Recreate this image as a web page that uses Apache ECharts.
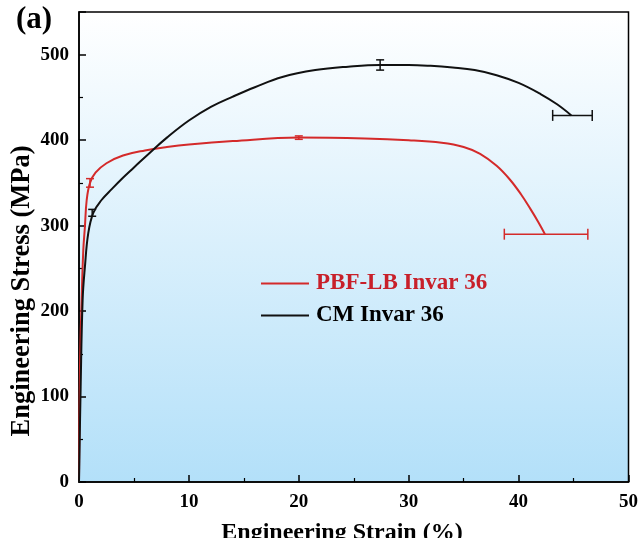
<!DOCTYPE html>
<html>
<head>
<meta charset="utf-8">
<script src="https://cdn.jsdelivr.net/npm/echarts@6/dist/echarts.min.js"></script>
<style>html,body{margin:0;padding:0;background:#fff;}#c{width:641px;height:538px;}</style>
</head>
<body>
<div id="c"></div>
<script>
// Data (strain %, stress MPa)
const pbfStrain = [0, 0.09, 0.24, 0.39, 0.54, 0.7, 1.0, 1.5, 2.5, 4, 6, 8, 10, 14, 20, 26, 30, 33, 35, 36.5, 38, 39.2, 40.2, 41.1, 41.8, 42.4];
const pbfStress = [0, 135, 213, 271, 299, 330, 350, 362, 373, 382, 388, 392, 395, 399, 403, 402, 400, 397, 392, 384, 370, 354, 337, 319, 304, 290];
const cmStrain = [0, 0.15, 0.33, 0.54, 0.84, 1.3, 2.05, 3, 4, 5, 6.5, 8, 10, 12, 14, 16, 18.5, 21.5, 24.5, 27.4, 30, 32, 34, 36, 38, 40, 42, 43.5, 44.8];
const cmStress = [0, 111, 213, 252, 291, 315, 330, 343, 356, 368, 386, 403, 423, 439, 451, 462, 474, 482, 486, 488, 488, 487, 485, 482, 476, 467, 454, 442, 429];
// Vertical error bars: [strain, stress, low, high]
const pbfYErr = [[1.0, 350, 345, 355], [20, 403, 401, 405]];
const cmYErr = [[1.2, 315, 311, 319], [27.4, 488, 482, 494]];
// Horizontal error bars: [strain, stress, low, high]
const pbfXErr = [[42.4, 290, 38.7, 46.3]];
const cmXErr = [[44.8, 429, 43.1, 46.7]];
const xTicks = [0, 10, 20, 30, 40, 50];
const yTicks = [0, 100, 200, 300, 400, 500];
const seriesNames = ['PBF-LB Invar 36', 'CM Invar 36'];
const RED = '#d42a2a', BLACK = '#111';

const zip = (a, b) => a.map((v, i) => [v, b[i]]);
const serif = "'Liberation Serif','Times New Roman',serif";

function vErr(color) {
  return function (params, api) {
    const x = api.value(0), lo = api.value(2), hi = api.value(3);
    const p1 = api.coord([x, lo]), p2 = api.coord([x, hi]);
    const w = 4;
    const st = {stroke: color, lineWidth: 1.5};
    return {type: 'group', children: [
      {type: 'line', shape: {x1: p1[0], y1: p1[1], x2: p2[0], y2: p2[1]}, style: st},
      {type: 'line', shape: {x1: p1[0] - w, y1: p1[1], x2: p1[0] + w, y2: p1[1]}, style: st},
      {type: 'line', shape: {x1: p2[0] - w, y1: p2[1], x2: p2[0] + w, y2: p2[1]}, style: st}
    ]};
  };
}
function hErr(color) {
  return function (params, api) {
    const y = api.value(1), lo = api.value(2), hi = api.value(3);
    const p1 = api.coord([lo, y]), p2 = api.coord([hi, y]);
    const h = 5.5;
    const st = {stroke: color, lineWidth: 1.5};
    return {type: 'group', children: [
      {type: 'line', shape: {x1: p1[0], y1: p1[1], x2: p2[0], y2: p2[1]}, style: st},
      {type: 'line', shape: {x1: p1[0], y1: p1[1] - h, x2: p1[0], y2: p1[1] + h}, style: st},
      {type: 'line', shape: {x1: p2[0], y1: p2[1] - h, x2: p2[0], y2: p2[1] + h}, style: st}
    ]};
  };
}

const chart = echarts.init(document.getElementById('c'), null, {renderer: 'canvas'});
chart.setOption({
  animation: false,
  backgroundColor: '#fff',
  grid: {
    left: 79, right: 9, top: 12, bottom: 56, show: true,
    borderColor: '#000', borderWidth: 1.5,
    backgroundColor: new echarts.graphic.LinearGradient(0, 0, 0, 1, [
      {offset: 0, color: '#ffffff'}, {offset: 1, color: '#b3e0f9'}
    ])
  },
  graphic: [
    {type: 'text', left: 16, top: 4, style: {text: '(a)', font: "bold 31px " + serif, fill: '#000'}},
    {type: 'text', x: 342, y: 533, style: {text: 'Engineering Strain (%)', font: "bold 24px " + serif, fill: '#000', align: 'center', verticalAlign: 'middle'}},
    {type: 'text', x: 22, y: 291, rotation: Math.PI / 2, style: {text: 'Engineering Stress (MPa)', font: "bold 26.5px " + serif, fill: '#000', align: 'center', verticalAlign: 'middle'}}
  ],
  legend: {
    orient: 'vertical', left: 256, top: 267, itemWidth: 48, itemHeight: 2, itemGap: 9,
    icon: 'rect',
    data: [
      {name: seriesNames[0], textStyle: {color: '#c8202a'}},
      {name: seriesNames[1], textStyle: {color: '#000'}}
    ],
    textStyle: {fontFamily: serif, fontWeight: 'bold', fontSize: 23, padding: [0, 0, 0, 2]}
  },
  xAxis: {
    type: 'value', min: 0, max: 50, interval: 10,
    axisLine: {lineStyle: {color: '#000', width: 1.5}},
    axisTick: {inside: true, length: 7, lineStyle: {color: '#000', width: 1.5}},
    minorTick: {show: true, splitNumber: 2, length: 4, lineStyle: {color: '#000', width: 1.2}},
    splitLine: {show: false},
    axisLabel: {fontFamily: serif, fontWeight: 'bold', fontSize: 19, color: '#000', margin: 11,
      formatter: v => xTicks.includes(v) ? String(v) : ''}
  },
  yAxis: {
    type: 'value', min: 0, max: 550, interval: 100,
    axisLine: {lineStyle: {color: '#000', width: 1.5}},
    axisTick: {inside: true, length: 7, lineStyle: {color: '#000', width: 1.5}},
    minorTick: {show: true, splitNumber: 2, length: 4, lineStyle: {color: '#000', width: 1.2}},
    splitLine: {show: false},
    axisLabel: {fontFamily: serif, fontWeight: 'bold', fontSize: 19, color: '#000', margin: 10,
      formatter: v => yTicks.includes(v) ? String(v) : ''}
  },
  series: [
    {name: seriesNames[0], type: 'line', data: zip(pbfStrain, pbfStress), showSymbol: false, smooth: 0.4,
      lineStyle: {color: RED, width: 2}, itemStyle: {color: RED}, z: 3},
    {name: seriesNames[1], type: 'line', data: zip(cmStrain, cmStress), showSymbol: false, smooth: 0.4,
      lineStyle: {color: BLACK, width: 2}, itemStyle: {color: BLACK}, z: 3},
    {type: 'custom', renderItem: vErr(RED), data: pbfYErr, z: 4},
    {type: 'custom', renderItem: vErr(BLACK), data: cmYErr, z: 4},
    {type: 'custom', renderItem: hErr(RED), data: pbfXErr, z: 4},
    {type: 'custom', renderItem: hErr(BLACK), data: cmXErr, z: 4}
  ]
});
</script>
</body>
</html>
